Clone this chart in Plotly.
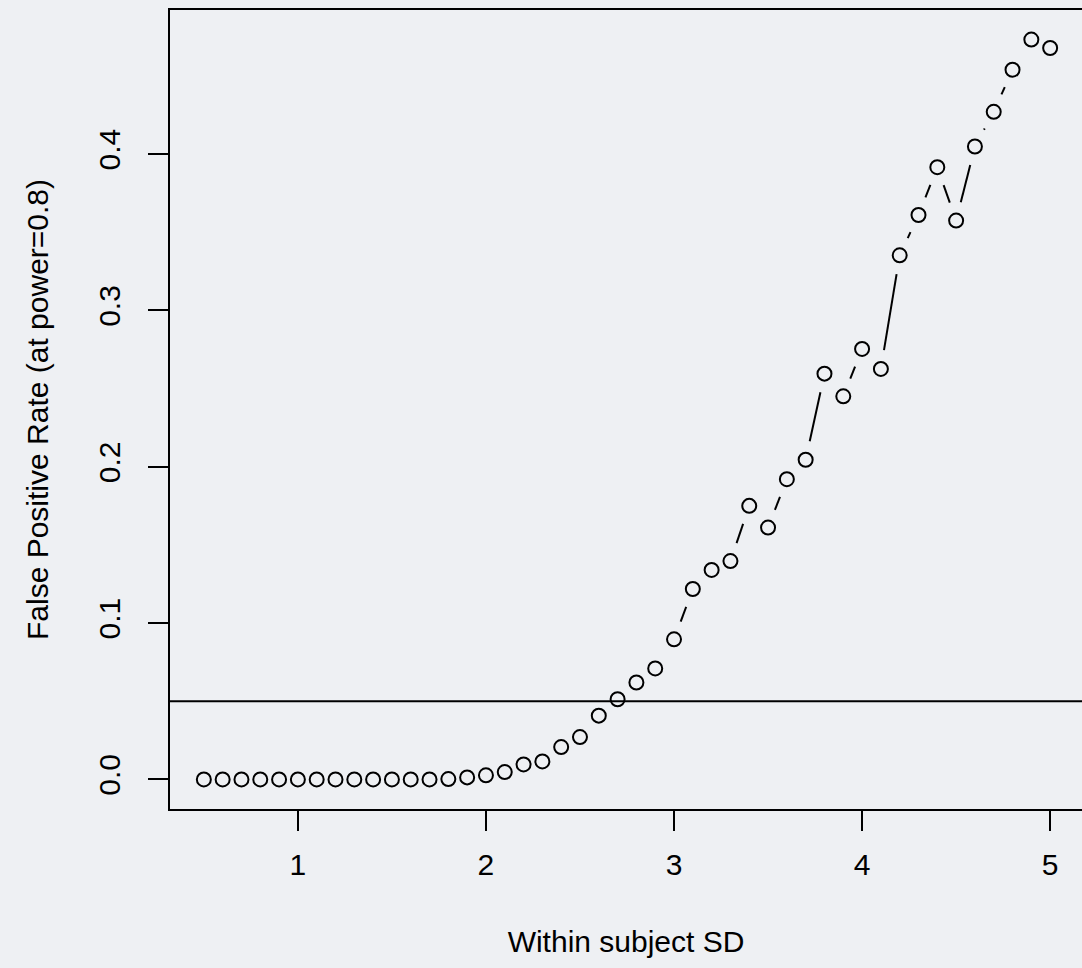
import math
import plotly.graph_objects as go

# Within-subject SD grid and simulated false positive rate at power 0.8
within_sd = [0.5, 0.6, 0.7, 0.8, 0.9, 1.0, 1.1, 1.2, 1.3, 1.4, 1.5, 1.6, 1.7,
             1.8, 1.9, 2.0, 2.1, 2.2, 2.3, 2.4, 2.5, 2.6, 2.7, 2.8, 2.9, 3.0,
             3.1, 3.2, 3.3, 3.4, 3.5, 3.6, 3.7, 3.8, 3.9, 4.0, 4.1, 4.2, 4.3,
             4.4, 4.5, 4.6, 4.7, 4.8, 4.9, 5.0]
false_pos = [0.0, 0.0, 0.0, 0.0, 0.0, 0.0, 0.0, 0.0, 0.0, 0.0, 0.0, 0.0, 0.0,
             0.0002, 0.0013, 0.0026, 0.0047, 0.0096, 0.0115, 0.0207, 0.0271,
             0.0408, 0.0513, 0.0620, 0.0710, 0.0896, 0.1218, 0.1340, 0.1397,
             0.1750, 0.1611, 0.1921, 0.2045, 0.2596, 0.2451, 0.2754, 0.2626,
             0.3353, 0.3611, 0.3917, 0.3575, 0.4049, 0.4271, 0.4540, 0.4733,
             0.4679]
alpha_level = 0.05

x_ticks = [1, 2, 3, 4, 5]
x_tick_text = ["1", "2", "3", "4", "5"]
y_ticks = [0.0, 0.1, 0.2, 0.3, 0.4]
y_tick_text = ["0.0", "0.1", "0.2", "0.3", "0.4"]

# Figure geometry
W, H = 1082, 968
M_L, M_R, M_T, M_B = 170, 0, 10, 159
plot_w = W - M_L - M_R
plot_h = H - M_T - M_B
BG = "#eef0f3"
FONT = "Liberation Sans, Arial, Helvetica, sans-serif"

# R-style axis extension (4% on each side); the right end runs 2px past the page
xspan = max(within_sd) - min(within_sd)
x_lo = min(within_sd) - 0.04 * xspan
x_hi_full = max(within_sd) + 0.04 * xspan
x_hi = x_lo + (x_hi_full - x_lo) * plot_w / (plot_w + 2)
yspan = max(false_pos) - min(false_pos)
y_lo = min(false_pos) - 0.04 * yspan
y_hi = max(false_pos) + 0.04 * yspan

kx = plot_w / (x_hi - x_lo)
ky = plot_h / (y_hi - y_lo)

# type="b" connecting lines: segments stop short of each point by a fixed gap
GAP = 19.0
seg_x, seg_y = [], []
for i in range(len(within_sd) - 1):
    x1, y1 = within_sd[i], false_pos[i]
    x2, y2 = within_sd[i + 1], false_pos[i + 1]
    length = math.hypot((x2 - x1) * kx, (y2 - y1) * ky)
    if length > 2 * GAP:
        f = GAP / length
        seg_x += [x1 + f * (x2 - x1), x2 - f * (x2 - x1), None]
        seg_y += [y1 + f * (y2 - y1), y2 - f * (y2 - y1), None]

fig = go.Figure()
fig.add_trace(go.Scatter(x=seg_x, y=seg_y, mode="lines",
                         line=dict(color="black", width=2),
                         hoverinfo="skip", showlegend=False))
fig.add_trace(go.Scatter(x=within_sd, y=false_pos, mode="markers",
                         marker=dict(symbol="circle-open", size=14,
                                     color="black", line=dict(width=2)),
                         showlegend=False))

fig.add_shape(type="line", xref="paper", yref="y", x0=0, x1=1,
              y0=alpha_level, y1=alpha_level,
              line=dict(color="black", width=2))

fig.update_layout(
    width=W, height=H,
    margin=dict(l=M_L, r=M_R, t=M_T, b=M_B),
    paper_bgcolor=BG, plot_bgcolor=BG,
    font=dict(family=FONT, size=30, color="black"),
    xaxis=dict(range=[x_lo, x_hi], tickvals=x_ticks, ticktext=x_tick_text,
               showgrid=False, zeroline=False, showline=True, mirror=True,
               linecolor="black", linewidth=2,
               ticks="outside", ticklen=20, tickwidth=2, tickcolor="black",
               ticklabelstandoff=8,
               title=dict(text="Within subject SD", standoff=51,
                          font=dict(size=30))),
    yaxis=dict(range=[y_lo, y_hi], tickvals=y_ticks, ticktext=y_tick_text,
               showgrid=False, zeroline=False, showline=True, mirror=False,
               linecolor="black", linewidth=2, tickangle=-90,
               ticks="outside", ticklen=20, tickwidth=2, tickcolor="black",
               ticklabelstandoff=16,
               title=dict(text="False Positive Rate (at power=0.8)",
                          standoff=36, font=dict(size=30))),
)

fig.write_html("out.html")
